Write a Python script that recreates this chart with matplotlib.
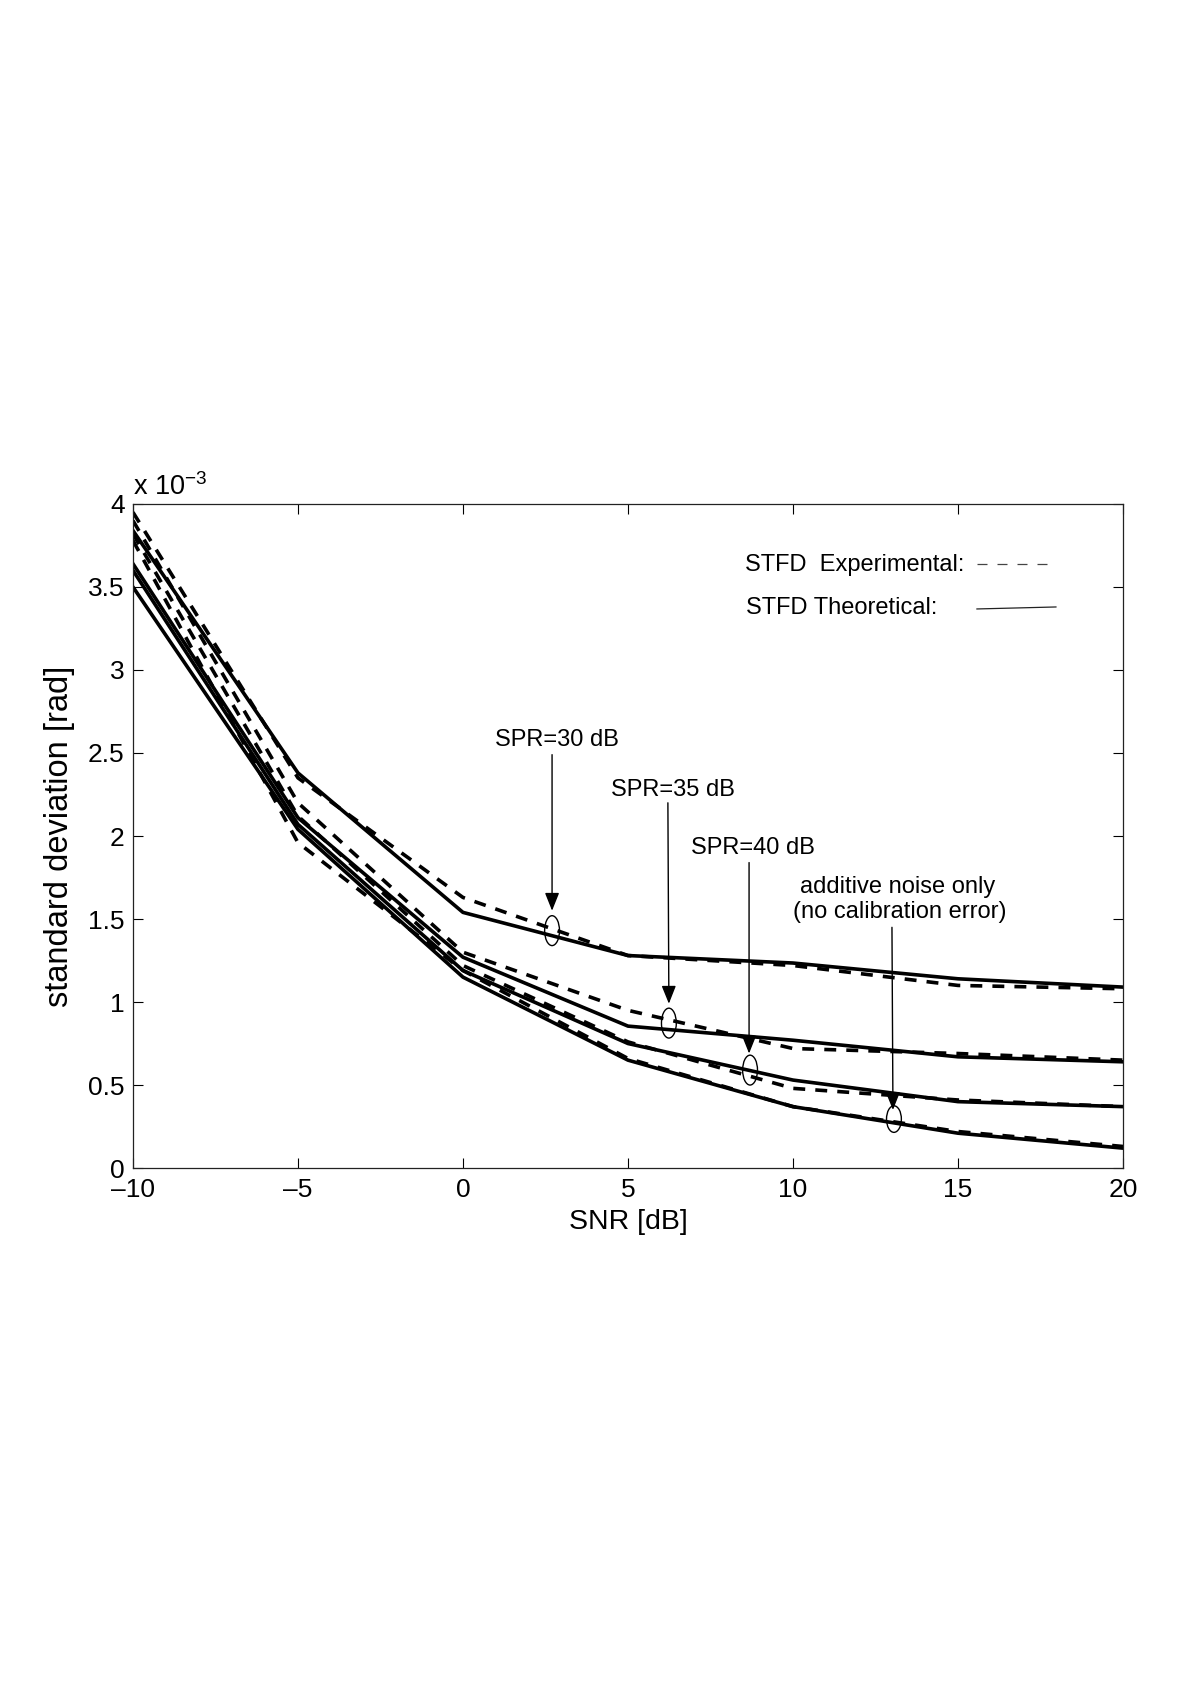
import matplotlib
matplotlib.use("Agg")
import matplotlib.pyplot as plt
from matplotlib.patches import Ellipse
from matplotlib.lines import Line2D

plt.rcParams['font.family'] = ['Liberation Sans', 'DejaVu Sans']
plt.rcParams['mathtext.fontset'] = 'custom'
plt.rcParams['mathtext.rm'] = 'Liberation Sans'
plt.rcParams['mathtext.it'] = 'Liberation Sans'

# ---- data (std in units of 1e-3 rad) ----
snr = [-10, -5, 0, 5, 10, 15, 20]
theo_spr30 = [3.84, 2.38, 1.54, 1.28, 1.235, 1.14, 1.09]
exp_spr30 = [3.95, 2.35, 1.63, 1.28, 1.22, 1.10, 1.08]
theo_spr35 = [3.64, 2.11, 1.27, 0.855, 0.77, 0.67, 0.64]
exp_spr35 = [3.90, 2.20, 1.30, 0.95, 0.72, 0.69, 0.65]
theo_spr40 = [3.60, 2.07, 1.19, 0.75, 0.53, 0.40, 0.37]
exp_spr40 = [3.82, 2.12, 1.22, 0.76, 0.48, 0.41, 0.37]
theo_noise = [3.50, 2.04, 1.15, 0.65, 0.37, 0.21, 0.12]
exp_noise = [3.78, 1.96, 1.19, 0.66, 0.37, 0.22, 0.13]

xticks = [-10, -5, 0, 5, 10, 15, 20]
yticks = [0, 0.5, 1, 1.5, 2, 2.5, 3, 3.5, 4]
ytick_labels = ['0', '0.5', '1', '1.5', '2', '2.5', '3', '3.5', '4']

# annotations: label, text pos, arrow tail, arrow head, ellipse center
annot_labels = ['SPR=30 dB', 'SPR=35 dB', 'SPR=40 dB']
annot_text_xy = [(2.85, 2.58), (6.36, 2.28), (8.79, 1.93)]
annot_tail = [(2.70, 2.49), (6.21, 2.20), (8.67, 1.84)]
annot_head = [(2.70, 1.55), (6.24, 0.99), (8.67, 0.69)]
annot_ell = [(2.70, 1.43), (6.24, 0.873), (8.70, 0.59)]
noise_text_lines = ['additive noise only', '(no calibration error)']
noise_text_xy = [(13.18, 1.69), (13.24, 1.54)]
noise_tail = (13.00, 1.45)
noise_head = (13.03, 0.35)
noise_ell = (13.06, 0.295)

fig = plt.figure(figsize=(12, 16.98), dpi=100)
ax = fig.add_axes([0.1108, 0.3121, 0.825, 0.3911])

lw = 2.6
dash = (3.3, 2.8)
for th, ex in [(theo_spr30, exp_spr30), (theo_spr35, exp_spr35),
               (theo_spr40, exp_spr40), (theo_noise, exp_noise)]:
    ax.plot(snr, ex, color='black', lw=lw, linestyle=(0, dash))
    ax.plot(snr, th, color='black', lw=lw, linestyle='-')

ax.set_xlim(-10, 20)
ax.set_ylim(0, 4)
ax.set_xticks(xticks)
ax.set_xticklabels([str(t).replace('-', '\u2013') for t in xticks])
ax.set_yticks(yticks)
ax.set_yticklabels(ytick_labels)
ax.tick_params(direction='in', length=7, width=0.8, top=True, right=True,
               labelsize=19, pad=6)
ax.tick_params(axis='x', pad=7.5)
for s in ax.spines.values():
    s.set_linewidth(0.9)
    s.set_color('#222222')

ax.set_xlabel('SNR [dB]', fontsize=20.5, va='center')
ax.xaxis.set_label_coords(0.5, -0.0813)
ax.set_ylabel('standard deviation [rad]', fontsize=23.5, va='center')
ax.yaxis.set_label_coords(-0.0737, 0.5)

ax.text(0.0, 1.026, r'x 10$^{\mathregular{-3}}$', transform=ax.transAxes,
        fontsize=19.5, ha='left', va='center')

arrow_props = dict(arrowstyle='-|>,head_length=0.55,head_width=0.22',
                   color='black', lw=1.0, shrinkA=0, shrinkB=0,
                   mutation_scale=20)
for lab, txy, tail, head, ell in zip(annot_labels, annot_text_xy, annot_tail,
                                      annot_head, annot_ell):
    ax.text(txy[0], txy[1], lab, fontsize=17, ha='center', va='center')
    ax.annotate('', xy=head, xytext=tail, arrowprops=arrow_props)
    ax.add_patch(Ellipse(ell, 0.45, 0.18, fill=False, lw=1.0, ec='black'))

for line, txy in zip(noise_text_lines, noise_text_xy):
    ax.text(txy[0], txy[1], line, fontsize=17, ha='center', va='center')
ax.annotate('', xy=noise_head, xytext=noise_tail, arrowprops=arrow_props)
ax.add_patch(Ellipse(noise_ell, 0.45, 0.16, fill=False, lw=1.0, ec='black'))

# legend-like labels
ax.text(0.618, 0.908, 'STFD  Experimental:', transform=ax.transAxes,
        fontsize=17, ha='left', va='center')
ax.text(0.619, 0.843, 'STFD Theoretical:', transform=ax.transAxes,
        fontsize=17, ha='left', va='center')
ax.add_line(Line2D([0.8525, 0.9293], [0.9096, 0.9096], transform=ax.transAxes,
                   color='#444444', lw=0.9, linestyle=(0, (8, 8))))
ax.add_line(Line2D([0.8525, 0.9323], [0.8419, 0.8449], transform=ax.transAxes,
                   color='#222222', lw=0.9, linestyle='-'))

fig.savefig('out.png', dpi=100, facecolor='white')
